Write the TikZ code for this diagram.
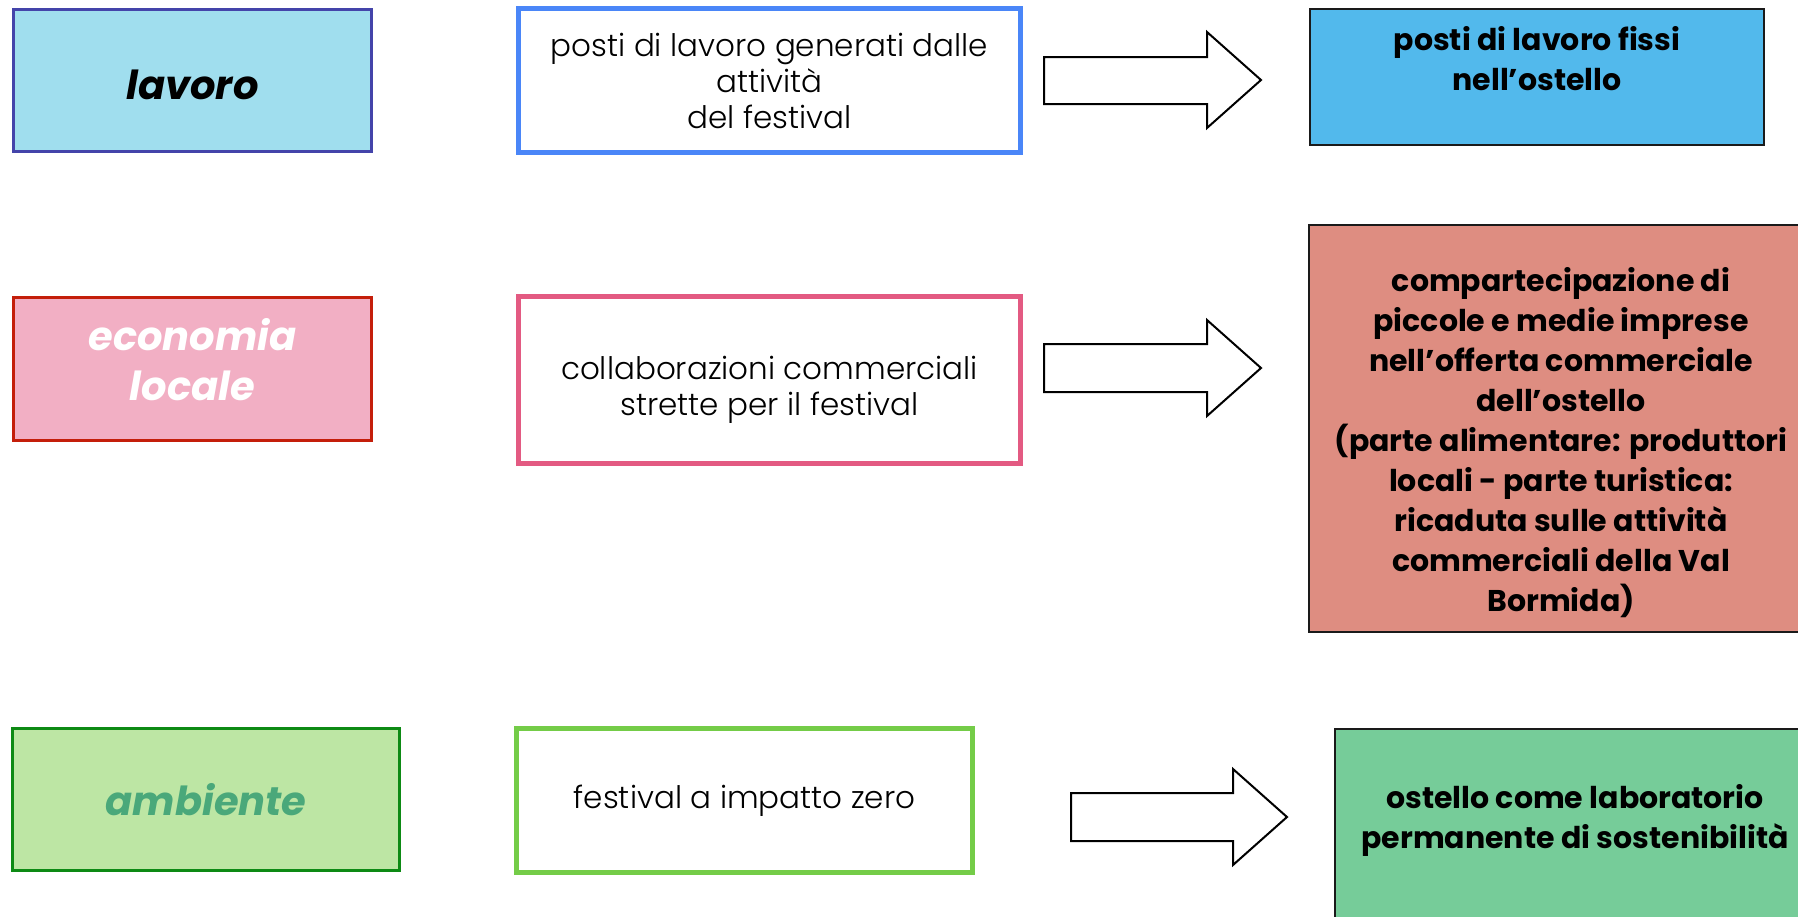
\documentclass[tikz,border=0pt]{standalone}
\usepackage{fontspec}
\setmainfont{Poppins}
\newfontfamily\lightfont{Poppins Light}
\definecolor{lavfill}{HTML}{A0DEEE}
\definecolor{lavdraw}{HTML}{4444AA}
\definecolor{postidraw}{HTML}{4A86F8}
\definecolor{resone}{HTML}{52B9EC}
\definecolor{ecofill}{HTML}{F2AFC4}
\definecolor{ecodraw}{HTML}{C41E0A}
\definecolor{collabdraw}{HTML}{E35A82}
\definecolor{restwo}{HTML}{DE8D81}
\definecolor{ambfill}{HTML}{BDE6A4}
\definecolor{ambdraw}{HTML}{0D8A14}
\definecolor{ambtext}{HTML}{4AA87A}
\definecolor{festdraw}{HTML}{74CC48}
\definecolor{resthree}{HTML}{76CC99}
\definecolor{resdraw}{HTML}{1A1A1A}
\begin{document}
\begin{tikzpicture}[x=0.5pt,y=-0.5pt,
  box/.style={draw, rectangle, inner sep=0pt, outer sep=0pt},
  lab/.style={font=\fontsize{20}{25}\selectfont\bfseries\itshape, align=center, inner sep=0pt},
  body/.style={font=\lightfont\fontsize{15.5}{18}\selectfont, align=center, inner sep=0pt},
  res/.style={font=\fontsize{15}{20}\selectfont\bfseries, align=center, inner sep=0pt},
  blockarrow/.style={draw=black, line width=1pt, fill=white, line join=miter}]
\useasboundingbox (0,0) rectangle (1798,916);
\clip (0,0) rectangle (1798,916);
\fill[white] (0,0) rectangle (1798,916);

% row 1
\node[box, fill=lavfill, draw=lavdraw, line width=1.5pt, minimum width=179pt, minimum height=71pt] (lavoro) at (192.5,80.5) {};
\node[lab] (lavorotext) at (192.5,85) {lavoro};
\node[box, fill=white, draw=postidraw, line width=2.5pt, minimum width=251pt, minimum height=72pt, body] (posti) at (769.5,80.5) {posti di lavoro generati dalle\\attività\\del festival};
\node[box, fill=resone, draw=resdraw, line width=1pt, minimum width=227pt, minimum height=68pt] (resA) at (1537,77) {};
\node[res] (resAtext) at (1537,59) {posti di lavoro fissi\\nell’ostello};
\draw[blockarrow] (1044,57) -- (1207,57) -- (1207,32) -- (1261,80) -- (1207,128) -- (1207,104) -- (1044,104) -- cycle;

% row 2
\node[box, fill=ecofill, draw=ecodraw, line width=1.5pt, minimum width=179pt, minimum height=71.5pt] (eco) at (192.5,369) {};
\node[lab, text=white] (ecotext) at (192.5,360) {economia\\locale};
\node[box, fill=white, draw=collabdraw, line width=2.5pt, minimum width=251pt, minimum height=83.5pt] (collab) at (769.5,380) {};
\node[body] (collabtext) at (769.5,390) {collaborazioni commerciali\\strette per il festival};
\node[box, fill=restwo, draw=resdraw, line width=1pt, minimum width=252.5pt, minimum height=203.5pt] (resB) at (1561.5,428.5) {};
\node[res] (resBtext) at (1561,443) {compartecipazione di\\piccole e medie imprese\\nell’offerta commerciale\\dell’ostello\\(parte alimentare: produttori\\locali - parte turistica:\\ricaduta sulle attività\\commerciali della Val\\Bormida)};
\draw[blockarrow] (1044,344) -- (1207,344) -- (1207,320) -- (1261,368) -- (1207,416) -- (1207,392) -- (1044,392) -- cycle;

% row 3
\node[box, fill=ambfill, draw=ambdraw, line width=1.5pt, minimum width=193.5pt, minimum height=71pt, lab, text=ambtext] (amb) at (206,799.5) {ambiente};
\node[box, fill=white, draw=festdraw, line width=2.5pt, minimum width=228pt, minimum height=72pt, body] (fest) at (744.5,800.5) {festival a impatto zero};
\node[box, fill=resthree, draw=resdraw, line width=1pt, minimum width=240.5pt, minimum height=115.5pt] (resC) at (1575.5,844.5) {};
\node[res] (resCtext) at (1575,820) {ostello come laboratorio\\permanente di sostenibilità};
\draw[blockarrow] (1071,793) -- (1233,793) -- (1233,769) -- (1287,817) -- (1233,865) -- (1233,841) -- (1071,841) -- cycle;
\end{tikzpicture}
\end{document}
